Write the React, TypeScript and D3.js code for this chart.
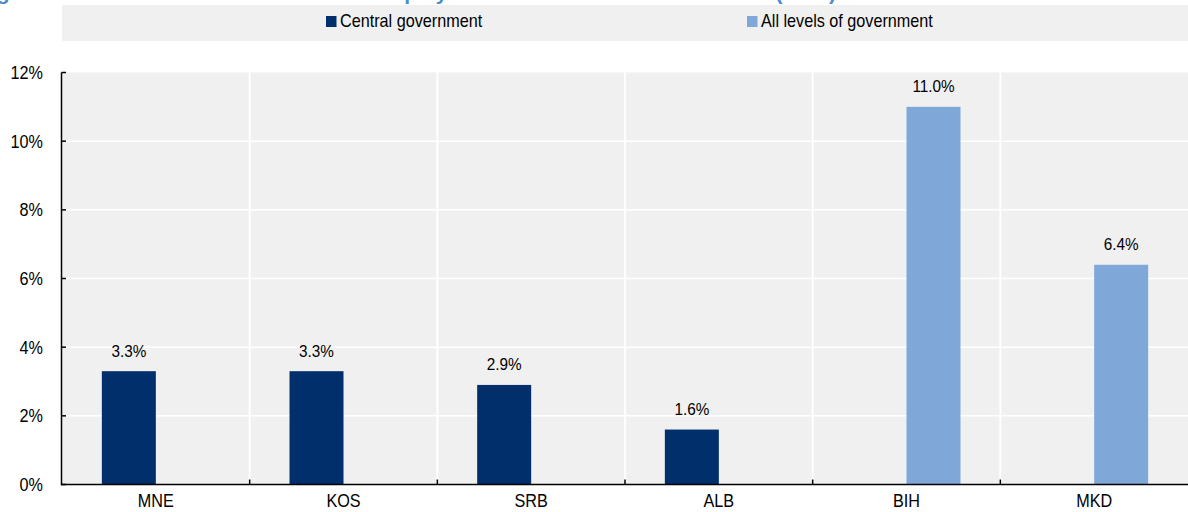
import React from "react";
import * as d3 from "d3";

// Chart data
const categories = ["MNE", "KOS", "SRB", "ALB", "BIH", "MKD"];
const seriesNames = ["Central government", "All levels of government"];
const centralGovernment: (number | null)[] = [3.3, 3.3, 2.9, 1.6, null, null];
const allLevelsOfGovernment: (number | null)[] = [null, null, null, null, 11.0, 6.4];
const yTicks = [0, 2, 4, 6, 8, 10, 12];
const title =
  "Figure 4.2. Annual attrition rate of state employees in the central administration (2021)";

const COLORS = ["#002F6C", "#7FA8D9"];
const FONT = "'Liberation Sans', Arial, Helvetica, sans-serif";

const W = 1188;
const H = 512;
const plot = { left: 62, right: 1188, top: 72.5, bottom: 484.5 };

// Slightly condensed text, like the original narrow sans style
function Label(props: {
  x: number;
  y: number;
  size: number;
  anchor?: "start" | "middle" | "end";
  children: React.ReactNode;
}) {
  const { x, y, size, anchor = "start", children } = props;
  return (
    <text
      transform={`translate(${x},${y}) scale(0.9,1)`}
      textAnchor={anchor}
      fontSize={size}
      fontFamily={FONT}
      fill="#000"
    >
      {children}
    </text>
  );
}

export default function App() {
  const x0 = d3
    .scaleBand<string>()
    .domain(categories)
    .range([plot.left, plot.right])
    .paddingInner(0)
    .paddingOuter(0);
  const x1 = d3
    .scaleBand<string>()
    .domain(seriesNames)
    .range([0, x0.bandwidth()])
    .paddingInner(0)
    .paddingOuter(0.738);
  const y = d3.scaleLinear().domain([0, 12]).range([plot.bottom, plot.top]);

  const series = [centralGovernment, allLevelsOfGovernment];
  const boundaries = categories.slice(1).map((c) => x0(c)!);

  const legendItems = [
    { name: seriesNames[0], color: COLORS[0], x: 326 },
    { name: seriesNames[1], color: COLORS[1], x: 747 },
  ];

  return (
    <svg
      width={W}
      height={H}
      viewBox={`0 0 ${W} ${H}`}
      style={{ position: "absolute", left: 0, top: 0, background: "#fff" }}
    >
      {/* Title (runs off the top edge) */}
      <text
        x={-22}
        y={0}
        fontSize={21}
        fontWeight="bold"
        fontFamily={FONT}
        fill="#4A8BD0"
      >
        {title}
      </text>

      {/* Legend */}
      <rect x={62} y={5} width={W - 62} height={36} fill="#F0F0F0" />
      {legendItems.map((d) => (
        <g key={d.name}>
          <rect x={d.x} y={16} width={10.5} height={11} fill={d.color} />
          <Label x={d.x + 14} y={27} size={18}>
            {d.name}
          </Label>
        </g>
      ))}

      {/* Plot background */}
      <rect
        x={plot.left}
        y={plot.top}
        width={plot.right - plot.left}
        height={plot.bottom - plot.top}
        fill="#F0F0F0"
      />
      {/* Horizontal gridlines */}
      {yTicks
        .filter((t) => t > 0 && t < 12)
        .map((t) => (
          <line
            key={`h${t}`}
            x1={plot.left}
            x2={plot.right}
            y1={y(t)}
            y2={y(t)}
            stroke="#fff"
            strokeWidth={1.5}
          />
        ))}
      {/* Vertical separators between categories */}
      {boundaries.map((bx, i) => (
        <line
          key={`v${i}`}
          x1={bx}
          x2={bx}
          y1={plot.top}
          y2={plot.bottom}
          stroke="#fff"
          strokeWidth={2}
        />
      ))}

      {/* Bars */}
      {series.map((vals, si) =>
        vals.map((v, ci) => {
          if (v == null) return null;
          const bx = x0(categories[ci])! + x1(seriesNames[si])!;
          return (
            <rect
              key={`b${si}-${ci}`}
              x={bx}
              y={y(v)}
              width={x1.bandwidth()}
              height={y(0) - y(v)}
              fill={COLORS[si]}
            />
          );
        })
      )}

      {/* Value labels */}
      {series.map((vals, si) =>
        vals.map((v, ci) => {
          if (v == null) return null;
          const cx = x0(categories[ci])! + x1(seriesNames[si])! + x1.bandwidth() / 2;
          return (
            <Label key={`l${si}-${ci}`} x={cx} y={y(v) - 14.5} size={17} anchor="middle">
              {`${v.toFixed(1)}%`}
            </Label>
          );
        })
      )}

      {/* Y axis */}
      <line
        x1={61.5}
        x2={61.5}
        y1={plot.top}
        y2={plot.bottom + 0.75}
        stroke="#000"
        strokeWidth={1.5}
      />
      {yTicks.map((t) => (
        <g key={`yt${t}`}>
          <line x1={61.5} x2={66} y1={y(t)} y2={y(t)} stroke="#000" strokeWidth={1.5} />
          <Label x={43} y={y(t) + 6.5} size={18} anchor="end">
            {`${t}%`}
          </Label>
        </g>
      ))}

      {/* X axis */}
      <line
        x1={61}
        x2={plot.right}
        y1={plot.bottom}
        y2={plot.bottom}
        stroke="#000"
        strokeWidth={1.5}
      />
      {boundaries.map((bx, i) => (
        <line
          key={`xt${i}`}
          x1={bx}
          x2={bx}
          y1={plot.bottom}
          y2={plot.bottom - 5}
          stroke="#000"
          strokeWidth={1.5}
        />
      ))}
      {categories.map((c) => (
        <Label key={`c${c}`} x={x0(c)! + x0.bandwidth() / 2} y={506.5} size={18} anchor="middle">
          {c}
        </Label>
      ))}
    </svg>
  );
}
